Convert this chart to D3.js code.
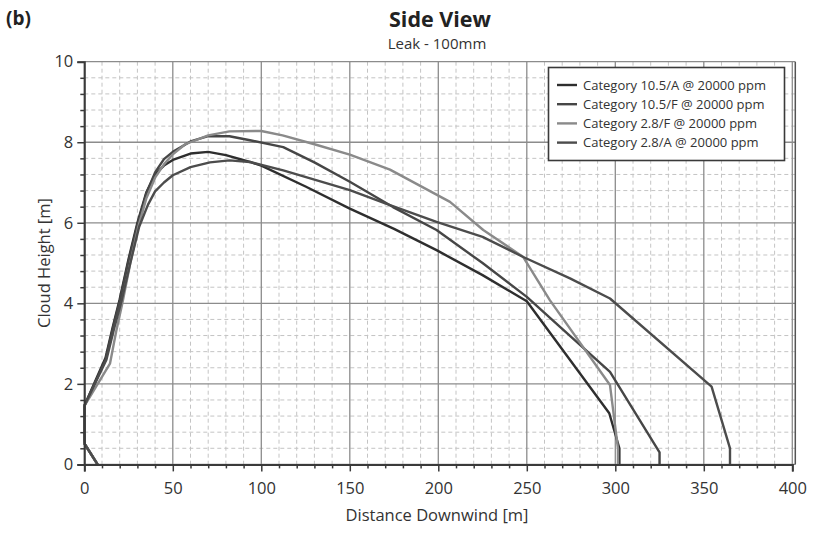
<!DOCTYPE html>
<html><head><meta charset="utf-8">
<script src="https://cdn.jsdelivr.net/npm/d3@7/dist/d3.min.js"></script>
<style>body{margin:0;background:#fff;}svg{display:block;font-family:"Open Sans",sans-serif;}</style>
</head><body>
<svg id="c" width="813" height="533"></svg>
<script>
const seriesNames = ["Category 10.5/A @ 20000 ppm","Category 10.5/F @ 20000 ppm","Category 2.8/F @ 20000 ppm","Category 2.8/A @ 20000 ppm"];
const seriesColors = ["#2e2e2e","#464646","#8a8a8a","#4c4c4c"];
const xTicks = [0,50,100,150,200,250,300,350,400];
const yTicks = [0,2,4,6,8,10];
const s105A = [[7.5,0],[0.3,0.5],[0,0.6],[0,1.45],[12,2.65],[16,3.4],[20,4.1],[25,5.1],[30,6.0],[35,6.75],[40,7.2],[45,7.42],[50,7.56],[60,7.72],[70,7.76],[80,7.68],[93.6,7.51],[100,7.42],[125,6.9],[150,6.35],[175,5.85],[199,5.32],[225,4.7],[250,4.05],[296.6,1.27],[302.3,0.4],[302.3,0]];
const s105F = [[7.5,0],[0.3,0.5],[0,0.6],[0,1.45],[12,2.6],[16,3.35],[20,4.05],[25,5.05],[30,5.95],[35,6.72],[40,7.25],[45,7.58],[50,7.76],[60,8.02],[70,8.15],[82,8.15],[93.6,8.05],[112.4,7.88],[130,7.5],[150,7.02],[174.4,6.39],[199,5.82],[225,5.0],[250,4.16],[268.6,3.42],[297,2.3],[325,0.3],[325,0]];
const s28F = [[7.5,0],[0.3,0.5],[0,0.6],[0,1.45],[14.5,2.5],[18,3.3],[21.5,4.0],[26,5.0],[30.5,5.9],[35,6.6],[40,7.12],[45,7.45],[50,7.7],[57,7.95],[70,8.17],[82,8.27],[100,8.28],[112,8.17],[130,7.95],[150,7.69],[172.7,7.32],[206.6,6.52],[225.4,5.82],[248,5.15],[263,4.08],[297,1.97],[301.5,0.4],[301.5,0]];
const s28A = [[7.5,0],[0.3,0.5],[0,0.6],[0,1.45],[12.5,2.6],[17,3.4],[21,4.05],[26,5.0],[31,5.9],[36,6.45],[40,6.78],[45,7.0],[50,7.18],[60,7.38],[71,7.5],[82,7.55],[93.6,7.51],[112.4,7.3],[150,6.81],[172.7,6.44],[199,6.02],[225,5.65],[248,5.15],[274.4,4.62],[297,4.12],[354.4,1.93],[364.8,0.4],[364.8,0]];
const allSeries = [s105A, s105F, s28F, s28A];

const svg = d3.select("#c");
const L = 84.3, R = 792.3, T = 61.7, B = 464.4;
const x = d3.scaleLinear().domain([0,400]).range([L,R]);
const y = d3.scaleLinear().domain([0,10]).range([B,T]);

svg.append("rect").attr("x",L).attr("y",T).attr("width",R-L+3).attr("height",B-T).attr("fill","#fff");

const xMinor = d3.range(0,401,10).filter(v=>v%50!==0);
const yMinor = d3.range(0,10.01,0.4).map(v=>+v.toFixed(1)).filter(v=>Math.abs(v/2-Math.round(v/2))>1e-6);
const g = svg.append("g");
g.selectAll(".xm").data(xMinor).join("line").attr("x1",d=>x(d)).attr("x2",d=>x(d)).attr("y1",T).attr("y2",B)
 .attr("stroke","#c4c4c4").attr("stroke-width",1).attr("stroke-dasharray","4,3");
g.selectAll(".ym").data(yMinor).join("line").attr("y1",d=>y(d)).attr("y2",d=>y(d)).attr("x1",L).attr("x2",R+3)
 .attr("stroke","#c4c4c4").attr("stroke-width",1).attr("stroke-dasharray","4,3");
g.selectAll(".xM").data(xTicks).join("line").attr("x1",d=>x(d)).attr("x2",d=>x(d)).attr("y1",T).attr("y2",B)
 .attr("stroke","#8c8c8c").attr("stroke-width",1.3);
g.selectAll(".yM").data(yTicks).join("line").attr("y1",d=>y(d)).attr("y2",d=>y(d)).attr("x1",L).attr("x2",R+3)
 .attr("stroke","#8c8c8c").attr("stroke-width",1.3);
svg.append("line").attr("x1",R+3).attr("x2",R+3).attr("y1",T).attr("y2",B).attr("stroke","#555").attr("stroke-width",1.5);

const line = d3.line().x(d=>x(d[0])).y(d=>y(d[1]));
svg.append("g").selectAll("path").data(allSeries).join("path")
 .attr("d",line).attr("fill","none").attr("stroke",(d,i)=>seriesColors[i]).attr("stroke-width",2.4).attr("stroke-linejoin","round");

svg.append("g").attr("transform",`translate(0,${B})`)
 .call(d3.axisBottom(x).tickValues(xTicks).tickSize(7).tickPadding(11).tickFormat(d3.format("d")));
svg.append("g").attr("transform",`translate(0,${B})`)
 .call(d3.axisBottom(x).tickValues(xMinor).tickSize(4).tickFormat(""))
 .call(a=>a.select(".domain").remove());
svg.append("g").attr("transform",`translate(${L},0)`)
 .call(d3.axisLeft(y).tickValues(yTicks).tickSize(7).tickPadding(4).tickFormat(d3.format("d")));
svg.append("g").attr("transform",`translate(${L},0)`)
 .call(d3.axisLeft(y).tickValues(yMinor).tickSize(4).tickFormat(""))
 .call(a=>a.select(".domain").remove());
svg.selectAll(".domain").attr("stroke","#3a3a3a").attr("stroke-width",2);
svg.selectAll(".tick line").attr("stroke","#3a3a3a").attr("stroke-width",1.5);
svg.selectAll(".tick text").attr("font-size",16.5).attr("fill","#333").attr("font-family","'Open Sans',sans-serif");

svg.append("text").attr("x",6).attr("y",25).text("(b)").attr("font-size",19).attr("font-weight","bold").attr("fill","#222");
svg.append("text").attr("x",440).attr("y",27).attr("text-anchor","middle").text("Side View").attr("font-size",21.5).attr("font-weight","bold").attr("fill","#222");
svg.append("text").attr("x",437).attr("y",49).attr("text-anchor","middle").text("Leak - 100mm").attr("font-size",15).attr("fill","#333");
svg.append("text").attr("x",437).attr("y",521).attr("text-anchor","middle").text("Distance Downwind [m]").attr("font-size",16.5).attr("fill","#333");
svg.append("text").attr("transform","translate(50,263) rotate(-90)").attr("text-anchor","middle").text("Cloud Height [m]").attr("font-size",16.5).attr("fill","#333");

const lg = svg.append("g");
lg.append("rect").attr("x",548.5).attr("y",67.5).attr("width",236).attr("height",93).attr("fill","#fff").attr("stroke","#3a3a3a").attr("stroke-width",1.6);
seriesNames.forEach((n,i)=>{
  const yy = 85 + i*19.2;
  lg.append("line").attr("x1",557).attr("x2",577).attr("y1",yy).attr("y2",yy).attr("stroke",seriesColors[i]).attr("stroke-width",2.4);
  lg.append("text").attr("x",583).attr("y",yy+4.5).text(n).attr("font-size",13).attr("fill","#333");
});
</script>
</body></html>
